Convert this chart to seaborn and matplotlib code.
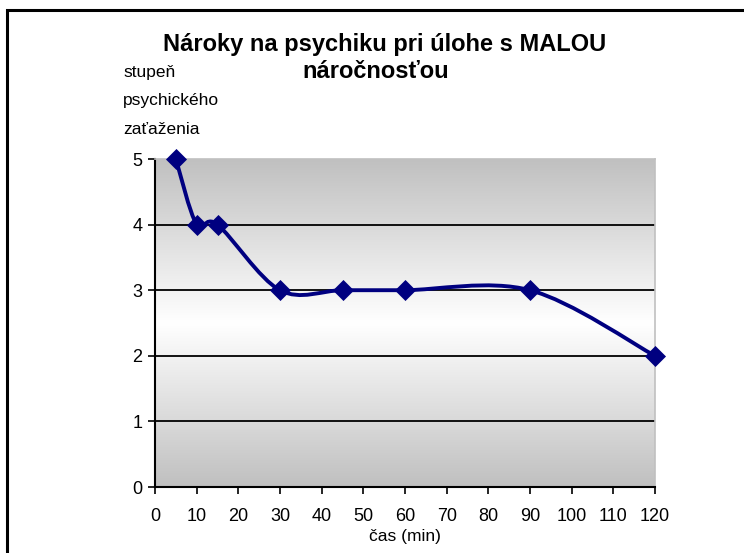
import numpy as np
import pandas as pd
import matplotlib
matplotlib.use('Agg')
import matplotlib.pyplot as plt
import seaborn as sns
from matplotlib.path import Path
from matplotlib.patches import PathPatch, Rectangle
from matplotlib.colors import LinearSegmentedColormap

# Dáta z grafu
cas = [5, 10, 15, 30, 45, 60, 90, 120]
zataz = [5, 4, 4, 3, 3, 3, 3, 2]
x_ticks = list(range(0, 121, 10))
y_ticks = [0, 1, 2, 3, 4, 5]
nadpis = ['Nároky na psychiku pri úlohe s MALOU', 'náročnosťou']
y_popis = ['stupeň', 'psychického', 'zaťaženia']

df = pd.DataFrame({'cas': cas, 'zataz': zataz})

sns.set_theme(style='white')
plt.rcParams['font.family'] = ['Liberation Sans', 'DejaVu Sans']
plt.rcParams['text.color'] = 'black'

fig = plt.figure(figsize=(7.44, 5.53), dpi=100)
ax = fig.add_axes([155 / 744, 1 - 487 / 553, 500 / 744, 328 / 553])

# šedý prechod pozadia (sivá - biela - sivá)
grad_cmap = LinearSegmentedColormap.from_list('bg', ['#c0c0c0', '#ffffff', '#c0c0c0'])
grad = np.linspace(0, 1, 256).reshape(-1, 1)
ax.imshow(grad, cmap=grad_cmap, aspect='auto', extent=[0, 1, 0, 1],
          transform=ax.transAxes, zorder=0)

# mriežka
for yv in y_ticks[1:-1]:
    ax.axhline(yv, color='black', lw=1.3, zorder=1)

# vyhladená čiara (Excel-ová spline cez body)
pts = np.column_stack([cas, zataz]).astype(float)
ext = np.vstack([pts[0], pts, pts[-1]])
verts = [tuple(pts[0])]
codes = [Path.MOVETO]
for i in range(1, len(ext) - 2):
    p0, p1, p2, p3 = ext[i - 1], ext[i], ext[i + 1], ext[i + 2]
    c1 = p1 + (p2 - p0) / 6
    c2 = p2 - (p3 - p1) / 6
    verts += [tuple(c1), tuple(c2), tuple(p2)]
    codes += [Path.CURVE4] * 3
ax.add_patch(PathPatch(Path(verts, codes), facecolor='none', edgecolor='#000080',
                       lw=2.8, zorder=3, clip_on=False))

sns.scatterplot(data=df, x='cas', y='zataz', marker='D', s=115, color='#000080',
                edgecolor='#000080', linewidth=0, zorder=4, clip_on=False, ax=ax)

ax.set_xlim(0, 120)
ax.set_ylim(0, 5)
ax.set_xticks(x_ticks)
ax.set_yticks(y_ticks)
ax.tick_params(axis='both', labelsize=13, colors='black', length=5, width=1.2,
               direction='out', bottom=True, left=True)
ax.tick_params(axis='x', pad=10)
ax.tick_params(axis='y', pad=4)

for side in ['left', 'bottom']:
    ax.spines[side].set_color('black')
    ax.spines[side].set_linewidth(1.5)
for side in ['top', 'right']:
    ax.spines[side].set_color('#c0c0c0')
    ax.spines[side].set_linewidth(1.2)

ax.set_xlabel('čas (min)', fontsize=12.5, labelpad=3, color='black')
ax.set_ylabel('')

# popis osi y - tri riadky
for i, riadok in enumerate(y_popis):
    fig.text(123 / 744, 1 - (72 + 28.5 * i) / 553, riadok, fontsize=12.5,
             va='center', ha='left', color='black')

# nadpis - dva riadky
fig.text(385 / 744, 1 - 44 / 553, nadpis[0], fontsize=17, fontweight='bold',
         ha='center', va='center', color='black')
fig.text(376 / 744, 1 - 72 / 553, nadpis[1], fontsize=17, fontweight='bold',
         ha='center', va='center', color='black')

# rámček okolo grafu
fig.patches.append(Rectangle((7 / 744, -0.1), 1.2, 1.1 - 10 / 553, fill=False,
                             edgecolor='black', lw=2.2, transform=fig.transFigure))

fig.savefig('out.png', dpi=100)
